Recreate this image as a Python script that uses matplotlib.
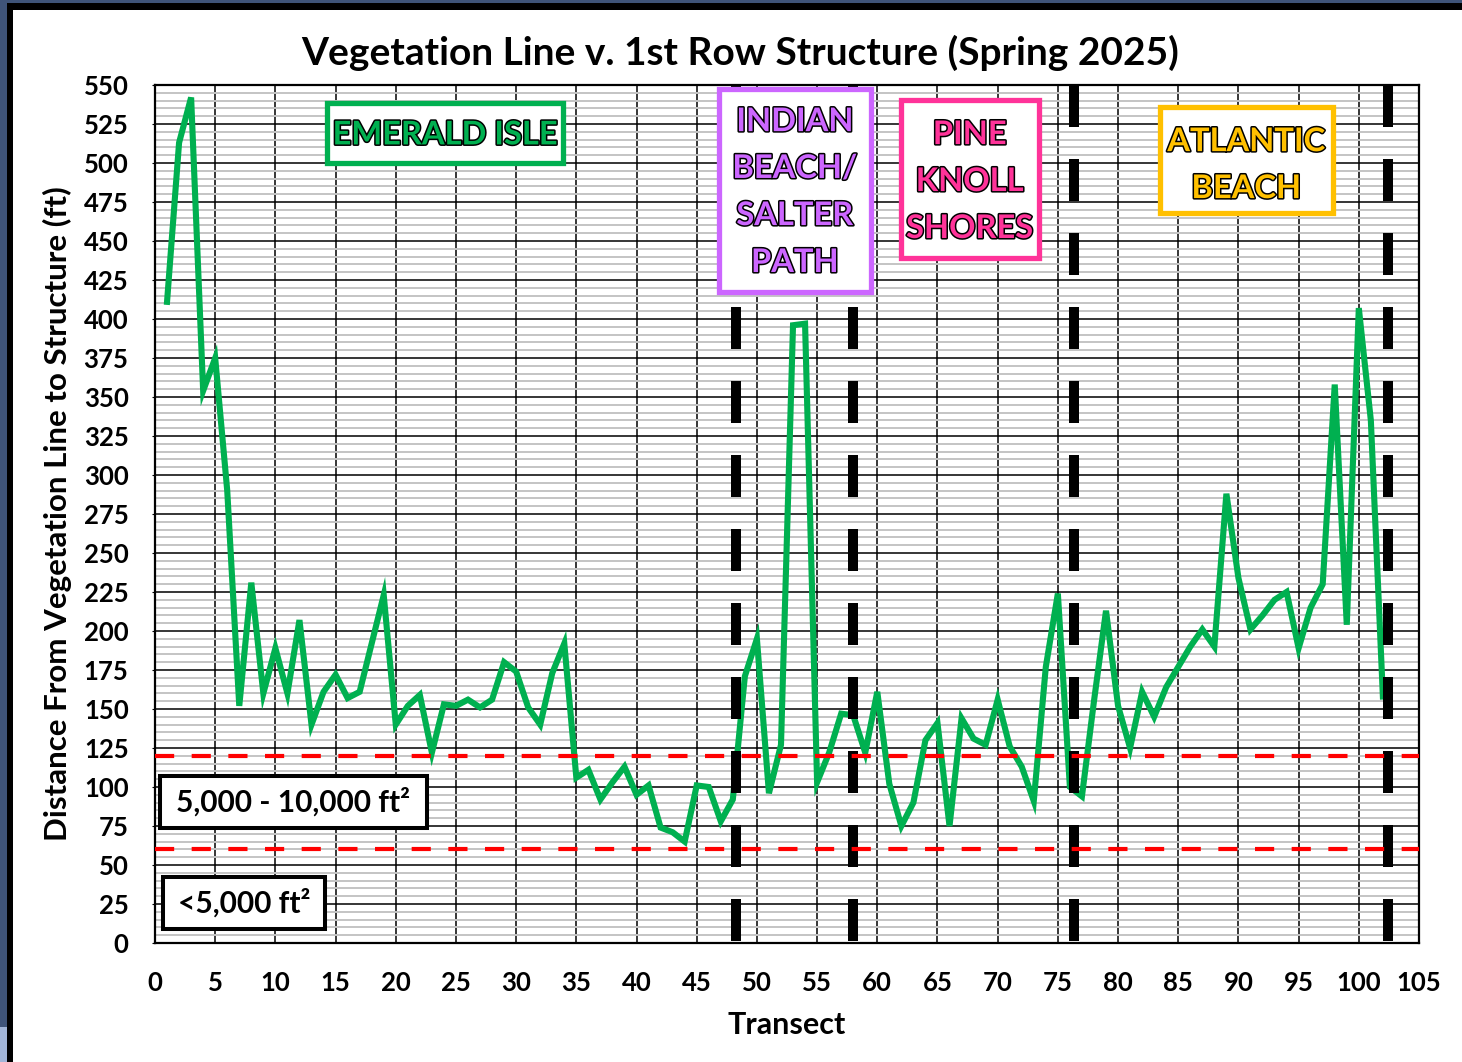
import matplotlib
matplotlib.use("Agg")
import matplotlib.pyplot as plt
import matplotlib.patheffects as pe
from matplotlib.patches import Rectangle
from matplotlib.ticker import MultipleLocator

plt.rcParams['font.family'] = ['Lato', 'DejaVu Sans']
plt.rcParams['font.weight'] = 'bold'
plt.rcParams['axes.labelweight'] = 'bold'

# data
transect = list(range(1, 103))
distance = [411, 513, 542, 354, 375, 290, 152, 231, 160, 189,
            160, 207, 140, 161, 172, 157, 161, 192, 223, 140,
            152, 159, 122, 153, 152, 156, 151, 156, 180, 174,
            151, 140, 173, 192, 106, 111, 92, 103, 113, 95,
            101, 74, 71, 65, 101, 100, 78, 92, 171, 195,
            96, 127, 396, 397, 103, 122, 147, 146, 122, 161,
            102, 75, 90, 130, 141, 75, 144, 131, 127, 156,
            126, 113, 91, 177, 224, 100, 94, 155, 213, 152,
            125, 161, 145, 164, 177, 190, 201, 190, 288, 234,
            201, 210, 220, 225, 189, 215, 230, 358, 204, 407,
            335, 158]

size_limits = [120, 60]
town_bounds = [48.3, 58, 76.3, 102.4]

town_names = [["EMERALD ISLE"],
              ["INDIAN", "BEACH/", "SALTER", "PATH"],
              ["PINE", "KNOLL", "SHORES"],
              ["ATLANTIC", "BEACH"]]
town_colors = ["#00B050", "#CC66FF", "#FF3399", "#FFC000"]
# box (x0, x1, y0, y1) in data units, and y of each text line
town_boxes = [(14.3, 33.9, 500, 538.5),
              (46.85, 59.45, 417.5, 547.3),
              (61.95, 73.4, 439, 540.3),
              (83.45, 97.85, 468, 535.8)]
town_line_y = [[518],
               [526.5, 496.5, 466.3, 436.2],
               [518.2, 488.1, 458.0],
               [513.7, 483.6]]

size_labels = ["5,000 - 10,000 ft²", "<5,000 ft²"]
size_boxes = [(0.42, 22.6, 73.7, 107), (0.66, 14.1, 9, 42.3)]

W, H = 1462, 1062
fig = plt.figure(figsize=(W / 100, H / 100), dpi=100, facecolor='#3F5479')
fig.patches.append(Rectangle((0, 0), 7 / W, 35 / H, transform=fig.transFigure,
                             facecolor='#A2B5D8', edgecolor='none', zorder=-3))
fig.patches.append(Rectangle((7 / W, 0), 1, 1 - 3 / H, transform=fig.transFigure,
                             facecolor='black', edgecolor='none', zorder=-2))
fig.patches.append(Rectangle((13 / W, 0), 1, 1 - 10 / H, transform=fig.transFigure,
                             facecolor='white', edgecolor='none', zorder=-1))

ax = fig.add_axes([155 / W, 1 - 943 / H, (1419 - 155) / W, (943 - 85) / H])
ax.set_facecolor('white')

ax.set_xlim(0, 105)
ax.set_ylim(0, 550)
ax.xaxis.set_major_locator(MultipleLocator(5))
ax.yaxis.set_major_locator(MultipleLocator(25))
ax.yaxis.set_minor_locator(MultipleLocator(5))
ax.grid(which='minor', axis='y', color='#C4C4C4', lw=1.4, zorder=0)
ax.grid(which='major', axis='both', color='black', lw=1.1, zorder=1)
ax.set_axisbelow(True)
for s in ax.spines.values():
    s.set_linewidth(1.6)
    s.set_color('black')

ax.tick_params(axis='x', which='both', length=0, pad=20, labelsize=18.5)
ax.tick_params(axis='y', which='major', length=2, pad=17, labelsize=18.5)
ax.tick_params(axis='y', which='minor', length=0)

ax.plot(transect, distance, color='#00B050', lw=4.4, zorder=3,
        solid_joinstyle='miter', clip_on=False)

for xb in town_bounds:
    ax.plot([xb, xb], [550, 0], color='black', lw=7.2, dashes=(4.2, 3.2),
            zorder=4, solid_capstyle='butt', dash_capstyle='butt')

for yl in size_limits:
    ax.axhline(yl, color='#FF0000', lw=3, dashes=(4.6, 4.2), zorder=5)

outline = [pe.Stroke(linewidth=2.2, foreground='black'), pe.Normal()]
for names, col, box, ys in zip(town_names, town_colors, town_boxes, town_line_y):
    x0, x1, y0, y1 = box
    ax.add_patch(Rectangle((x0, y0), x1 - x0, y1 - y0, facecolor='white',
                           edgecolor=col, lw=3.8, zorder=6))
    for name, yt in zip(names, ys):
        ax.text((x0 + x1) / 2, yt, name, color=col, fontsize=23.5, ha='center',
                va='center', zorder=7, path_effects=outline)

for label, box in zip(size_labels, size_boxes):
    x0, x1, y0, y1 = box
    ax.add_patch(Rectangle((x0, y0), x1 - x0, y1 - y0, facecolor='white',
                           edgecolor='black', lw=2.9, zorder=6))
    ax.text((x0 + x1) / 2, (y0 + y1) / 2, label, color='black', fontsize=21.5,
            ha='center', va='center', zorder=7)

fig.text(740 / W, 1 - 53 / H, "Vegetation Line v. 1st Row Structure (Spring 2025)",
         fontsize=28, fontweight='bold', ha='center', va='center')
ax.set_xlabel("Transect", fontsize=22, fontweight='bold', labelpad=12)
ax.set_ylabel("Distance From Vegetation Line to Structure (ft)", fontsize=22.5,
              fontweight='bold', labelpad=8)

fig.savefig("out.png", dpi=100, facecolor=fig.get_facecolor())
